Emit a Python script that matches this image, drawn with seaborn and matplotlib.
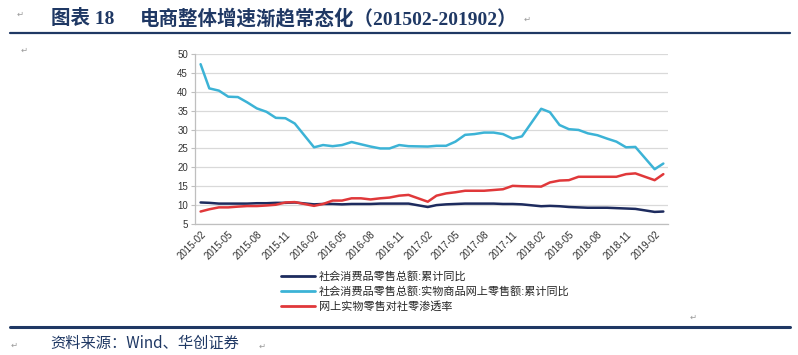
import matplotlib
matplotlib.use("Agg")
import matplotlib.pyplot as plt
import seaborn as sns
import pandas as pd
import numpy as np
from matplotlib.lines import Line2D

# ---------------- data ----------------
months = [
    "2015-02", "2015-03", "2015-04", "2015-05", "2015-06", "2015-07", "2015-08", "2015-09", "2015-10", "2015-11", "2015-12",
    "2016-02", "2016-03", "2016-04", "2016-05", "2016-06", "2016-07", "2016-08", "2016-09", "2016-10", "2016-11", "2016-12",
    "2017-02", "2017-03", "2017-04", "2017-05", "2017-06", "2017-07", "2017-08", "2017-09", "2017-10", "2017-11", "2017-12",
    "2018-02", "2018-03", "2018-04", "2018-05", "2018-06", "2018-07", "2018-08", "2018-09", "2018-10", "2018-11", "2018-12",
    "2019-02", "2019-03",
]
retail_total_yoy = [
    10.7, 10.6, 10.4, 10.4, 10.4, 10.4, 10.5, 10.5, 10.6, 10.6, 10.7,
    10.2, 10.3, 10.3, 10.2, 10.3, 10.3, 10.3, 10.4, 10.4, 10.4, 10.4,
    9.5, 10.0, 10.2, 10.3, 10.4, 10.4, 10.4, 10.4, 10.3, 10.3, 10.2,
    9.7, 9.8, 9.7, 9.5, 9.4, 9.3, 9.3, 9.3, 9.2, 9.1, 9.0,
    8.2, 8.3,
]
online_goods_yoy = [
    47.3, 40.9, 40.3, 38.7, 38.6, 37.2, 35.6, 34.7, 33.1, 33.0, 31.6,
    25.3, 25.9, 25.6, 25.9, 26.7, 26.1, 25.5, 25.0, 25.0, 25.9, 25.6,
    25.5, 25.7, 25.7, 26.8, 28.6, 28.8, 29.2, 29.2, 28.8, 27.6, 28.2,
    35.5, 34.6, 31.2, 30.1, 29.9, 29.0, 28.5, 27.6, 26.8, 25.3, 25.4,
    19.5, 21.0,
]
online_penetration = [
    8.3, 8.9, 9.4, 9.4, 9.6, 9.75, 9.75, 9.9, 10.1, 10.7, 10.8,
    9.8, 10.3, 11.2, 11.2, 11.8, 11.8, 11.5, 11.8, 12.0, 12.5, 12.7,
    10.9, 12.5, 13.1, 13.4, 13.8, 13.8, 13.8, 14.0, 14.2, 15.1, 15.0,
    14.9, 16.0, 16.5, 16.6, 17.5, 17.5, 17.5, 17.5, 17.5, 18.2, 18.4,
    16.6, 18.2,
]
series_names = [
    "社会消费品零售总额:累计同比",
    "社会消费品零售总额:实物商品网上零售额:累计同比",
    "网上实物零售对社零渗透率",
]
series_colors = ["#1d2b5e", "#3cb3d6", "#e0383a"]
tick_labels = [
    "2015-02", "2015-05", "2015-08", "2015-11",
    "2016-02", "2016-05", "2016-08", "2016-11",
    "2017-02", "2017-05", "2017-08", "2017-11",
    "2018-02", "2018-05", "2018-08", "2018-11",
    "2019-02",
]
y_ticks = [5, 10, 15, 20, 25, 30, 35, 40, 45, 50]

title_label = "图表 18"
title_text = "电商整体增速渐趋常态化（201502-201902）"
source_text = "资料来源：Wind、华创证券"

# ---------------- build frame ----------------
dates = pd.to_datetime(months)
df = pd.concat([
    pd.DataFrame({"date": dates, "value": vals, "series": name})
    for name, vals in zip(series_names, [retail_total_yoy, online_goods_yoy, online_penetration])
], ignore_index=True)

# ---------------- style ----------------
sns.set_theme(style="white")
plt.rcParams["font.family"] = ["Liberation Sans", "Noto Sans CJK SC", "DejaVu Sans"]

NAVY = "#1f3864"
fig = plt.figure(figsize=(7.98, 3.55), dpi=100)
ax = fig.add_axes([195 / 798, 1 - 224 / 355, (668 - 195) / 798, (224 - 54) / 355])

sns.lineplot(data=df, x="date", y="value", hue="series", hue_order=series_names,
             palette=series_colors, linewidth=1.8, legend=False, ax=ax)

ax.set_ylim(5, 50)
ax.set_yticks(y_ticks)
ax.set_yticklabels([str(v) for v in y_ticks])
ax.set_xlim(pd.Timestamp("2015-02-01") - pd.Timedelta(days=18),
            pd.Timestamp("2019-03-01") + pd.Timedelta(days=15))
ax.set_xticks(pd.to_datetime(tick_labels))
ax.set_xticklabels(tick_labels, rotation=45, ha="right", rotation_mode="anchor")
ax.set_xlabel("")
ax.set_ylabel("")

ax.grid(axis="y", color="#d9d9d9", linewidth=0.9)
ax.grid(axis="x", visible=False)
ax.set_axisbelow(True)
for s in ["top", "right"]:
    ax.spines[s].set_visible(False)
for s in ["left", "bottom"]:
    ax.spines[s].set_color("#bfbfbf")
    ax.spines[s].set_linewidth(0.9)
ax.tick_params(axis="y", length=3, width=0.8, color="#bfbfbf", labelsize=7, pad=2, labelcolor="#333333", left=True)
ax.tick_params(axis="x", length=0, labelsize=7, pad=4, labelcolor="#333333")

# legend
handles = [Line2D([0], [0], color=c, lw=2) for c in series_colors]
fig.legend(handles, series_names, loc="upper left", bbox_to_anchor=(281 / 798, 1 - 271 / 355),
           frameon=False, fontsize=8, handlelength=3.1, handletextpad=0.3,
           labelspacing=0.38, borderaxespad=0, borderpad=0)

# title & rules
fig.text(51 / 798, 1 - 18 / 355, title_label, fontsize=14, fontweight="bold", color=NAVY,
         va="center", ha="left", family=["Liberation Serif", "Noto Sans CJK SC"])
fig.text(140 / 798, 1 - 18 / 355, title_text, fontsize=14, fontweight="bold", color=NAVY,
         va="center", ha="left", family=["Liberation Serif", "Noto Sans CJK SC"])
fig.add_artist(Line2D([10 / 798, 790 / 798], [1 - 33 / 355, 1 - 33 / 355], color=NAVY, lw=1.6))
fig.add_artist(Line2D([10 / 798, 790 / 798], [1 - 327 / 355, 1 - 327 / 355], color=NAVY, lw=2.2))
fig.text(50 / 798, 1 - 343 / 355, source_text, fontsize=11, style="italic", color=NAVY,
         va="center", ha="left", family=["Noto Sans CJK SC", "DejaVu Sans"])

# paragraph marks
for (px, py) in [(20, 14), (24, 50), (527, 19), (693, 317), (14, 345), (262, 346)]:
    fig.text(px / 798, 1 - py / 355, "↵", fontsize=6, color="#9a9a9a", va="center", ha="center",
             family=["DejaVu Sans"])

fig.savefig("out.png", dpi=100)
